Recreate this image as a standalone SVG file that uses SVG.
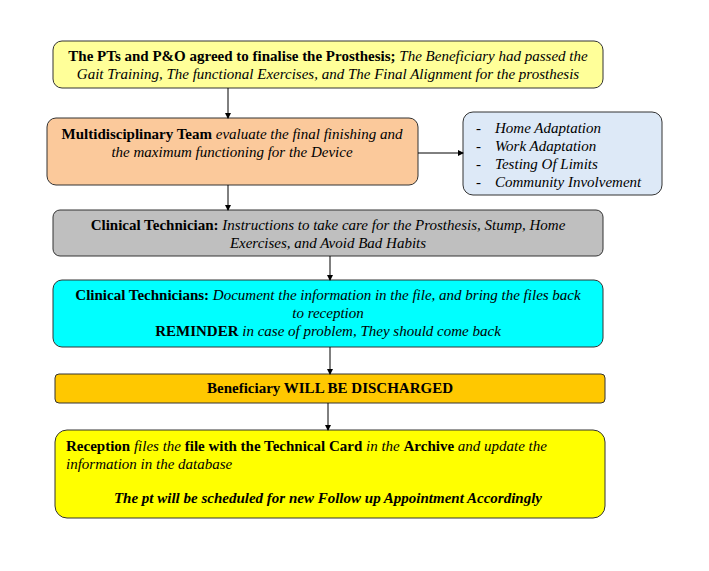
<svg xmlns="http://www.w3.org/2000/svg" width="709" height="571" viewBox="0 0 709 571">
<style>
text{font-family:"Liberation Serif","Times New Roman",serif;font-size:15px;fill:#000}
.b{font-weight:bold}.i{font-style:italic}
.m{text-anchor:middle}
.n rect{stroke:#333;stroke-width:1}
.c{stroke:#000;stroke-width:1;fill:none;marker-end:url(#a)}
</style>
<defs><marker id="a" markerWidth="6" markerHeight="6" refX="5" refY="3" orient="auto" markerUnits="userSpaceOnUse"><path d="M0,0L6,3L0,6z" fill="#000"/></marker></defs>
<rect width="709" height="571" fill="#fff"/>
<g id="n1" class="n"><rect x="53" y="41" width="550" height="47" rx="9" fill="#ffff99"/>
<text class="m" x="328" y="61"><tspan class="b">The PTs and P&amp;O agreed to finalise the Prosthesis; </tspan><tspan class="i">The Beneficiary had passed the</tspan></text>
<text class="m i" x="328" y="79">Gait Training, The functional Exercises, and The Final Alignment for the prosthesis</text></g>
<g id="n2" class="n"><rect x="47" y="118" width="371" height="67" rx="9" fill="#fbc99b"/>
<text class="m" x="232" y="139"><tspan class="b">Multidisciplinary Team </tspan><tspan class="i">evaluate the final finishing and</tspan></text>
<text class="m i" x="232" y="157">the maximum functioning for the Device</text></g>
<g id="n3" class="n"><rect x="463" y="112" width="199" height="83" rx="10" fill="#dde9f7"/>
<text x="476" y="133">-</text><text class="i" x="495" y="133">Home Adaptation</text>
<text x="476" y="151">-</text><text class="i" x="495" y="151">Work Adaptation</text>
<text x="476" y="169">-</text><text class="i" x="495" y="169">Testing Of Limits</text>
<text x="476" y="187">-</text><text class="i" x="495" y="187">Community Involvement</text></g>
<g id="n4" class="n"><rect x="53" y="210" width="550" height="46" rx="7" fill="#bfbfbf"/>
<text class="m" x="328" y="230"><tspan class="b">Clinical Technician:  </tspan><tspan class="i">Instructions to take care for the Prosthesis, Stump, Home</tspan></text>
<text class="m i" x="328" y="248">Exercises, and Avoid Bad Habits</text></g>
<g id="n5" class="n"><rect x="53" y="280" width="550" height="67" rx="9" fill="#00ffff"/>
<text class="m" x="328" y="300"><tspan class="b">Clinical Technicians:  </tspan><tspan class="i">Document the information in the file, and bring the files back</tspan></text>
<text class="m i" x="328" y="318">to reception</text>
<text class="m" x="328" y="336"><tspan class="b">REMINDER </tspan><tspan class="i">in case of problem, They should come back</tspan></text></g>
<g id="n6" class="n"><rect x="55" y="374" width="550" height="29" rx="4" fill="#ffc800"/>
<text class="m b" x="330" y="393">Beneficiary WILL BE DISCHARGED</text></g>
<g id="n7" class="n"><rect x="55" y="430" width="550" height="88" rx="12" fill="#ffff00"/>
<text x="66" y="451"><tspan class="b">Reception </tspan><tspan class="i">files the </tspan><tspan class="b">file with the Technical Card </tspan><tspan class="i">in the </tspan><tspan class="b">Archive </tspan><tspan class="i">and update the</tspan></text>
<text class="i" x="66" y="469">information in the database</text>
<text class="m b i" x="328" y="503">The pt will be scheduled for new Follow up Appointment Accordingly</text></g>
<g id="connectors">
<path class="c" d="M228,88V118"/>
<path class="c" d="M418,153H463"/>
<path class="c" d="M228,185V210"/>
<path class="c" d="M330,256V280"/>
<path class="c" d="M330,347V374"/>
<path class="c" d="M328,403V430"/>
</g>
</svg>
